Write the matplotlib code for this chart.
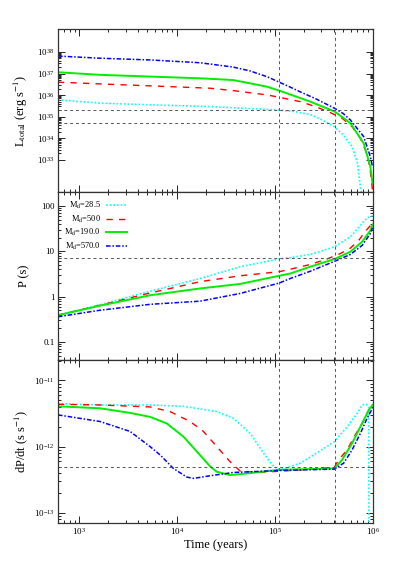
import numpy as np
import matplotlib.pyplot as plt
from matplotlib.ticker import FixedLocator, NullFormatter

plt.rcParams['font.family'] = 'Liberation Serif'
plt.rcParams['mathtext.fontset'] = 'stix'

# all values are log10
labels = [r'M$_{\rm d}$=28.5', r'M$_{\rm d}$=500', r'M$_{\rm d}$=190.0', r'M$_{\rm d}$=570.0']

# top panel: total luminosity
L_t_cyan = [2.785, 3.215, 3.727, 4.341, 5.047, 5.2, 5.364, 5.45, 5.538, 5.610, 5.702, 5.794, 5.845, 5.876, 5.886, 5.89]
L_cyan = [35.78, 35.63, 35.55, 35.47, 35.31, 35.24, 35.10, 34.93, 34.72, 34.53, 34.16, 33.60, 32.86, 31.75, 31.52, 30.5]
L_t_red = [2.785, 3.215, 3.727, 4.341, 4.576, 4.924, 5.047, 5.262, 5.416, 5.569, 5.689, 5.791, 5.876, 5.927, 5.961, 5.978, 5.996, 6.0]
L_red = [36.60, 36.52, 36.43, 36.32, 36.21, 36.01, 35.90, 35.70, 35.47, 35.19, 34.93, 34.54, 34.00, 33.46, 32.92, 32.46, 31.76, 31.6]
L_t_green = [2.785, 3.215, 3.727, 4.238, 4.576, 4.924, 5.047, 5.160, 5.364, 5.613, 5.774, 5.910, 5.978, 6.0]
L_green = [37.06, 36.94, 36.86, 36.78, 36.70, 36.39, 36.21, 36.03, 35.70, 35.24, 34.70, 33.77, 32.69, 31.92]
L_t_blue = [2.785, 3.215, 3.727, 4.238, 4.576, 4.75, 4.924, 5.047, 5.160, 5.262, 5.416, 5.613, 5.70, 5.774, 5.910, 5.978, 6.0]
L_blue = [37.81, 37.71, 37.63, 37.50, 37.30, 37.12, 36.85, 36.60, 36.37, 36.15, 35.84, 35.39, 35.15, 34.85, 34.08, 33.15, 32.69]
L_ref = [35.32, 34.70]

# middle panel: spin period
P_t_cyan = [2.785, 3.215, 3.727, 4.238, 4.648, 5.047, 5.160, 5.364, 5.613, 5.774, 5.876, 5.945, 6.0]
P_cyan = [-0.41, -0.18, 0.12, 0.40, 0.66, 0.83, 0.86, 0.93, 1.10, 1.32, 1.57, 1.74, 1.78]
P_t_red = [2.785, 3.215, 3.727, 4.238, 4.648, 5.047, 5.211, 5.364, 5.535, 5.672, 5.774, 5.859, 5.927, 5.996]
P_red = [-0.41, -0.19, 0.08, 0.33, 0.46, 0.55, 0.63, 0.71, 0.83, 0.95, 1.07, 1.24, 1.44, 1.61]
P_t_green = [2.785, 3.215, 3.727, 4.238, 4.648, 5.047, 5.160, 5.364, 5.613, 5.774, 5.894, 5.978, 6.0]
P_green = [-0.41, -0.20, 0.03, 0.18, 0.28, 0.46, 0.51, 0.66, 0.83, 0.99, 1.21, 1.46, 1.59]
P_t_blue = [2.785, 3.215, 3.727, 4.238, 4.648, 5.047, 5.160, 5.364, 5.613, 5.774, 5.894, 5.978, 6.0]
P_blue = [-0.445, -0.30, -0.17, -0.10, 0.07, 0.30, 0.40, 0.56, 0.78, 0.93, 1.13, 1.39, 1.52]
P_ref = 0.853

# bottom panel: period derivative
D_t_cyan = [2.785, 3.215, 3.727, 4.068, 4.409, 4.579, 4.750, 4.886, 4.989, 5.057, 5.262, 5.398, 5.610, 5.740, 5.842, 5.894, 5.938, 5.961, 5.965]
D_cyan = [-11.35, -11.37, -11.37, -11.39, -11.47, -11.57, -11.80, -12.10, -12.30, -12.35, -12.25, -12.125, -11.925, -11.70, -11.50, -11.37, -11.36, -11.40, -14.0]
D_t_red = [2.785, 3.215, 3.727, 3.931, 4.136, 4.272, 4.409, 4.546, 4.648, 4.819, 4.955, 5.057, 5.398, 5.610, 5.654, 5.740, 5.825, 5.894, 5.961, 5.996]
D_red = [-11.36, -11.37, -11.40, -11.47, -11.62, -11.77, -12.0, -12.23, -12.37, -12.39, -12.38, -12.37, -12.34, -12.31, -12.20, -12.05, -11.82, -11.65, -11.45, -11.37]
D_t_green = [2.785, 3.215, 3.522, 3.727, 3.898, 4.068, 4.205, 4.341, 4.409, 4.546, 4.750, 5.040, 5.610, 5.689, 5.791, 5.876, 5.961, 6.0]
D_green = [-11.39, -11.42, -11.49, -11.55, -11.65, -11.85, -12.075, -12.30, -12.38, -12.43, -12.40, -12.35, -12.33, -12.20, -11.95, -11.70, -11.45, -11.37]
D_t_blue = [2.785, 3.215, 3.522, 3.727, 3.829, 3.965, 4.102, 4.170, 4.341, 4.579, 5.057, 5.610, 5.705, 5.791, 5.876, 5.945, 6.0]
D_blue = [-11.52, -11.62, -11.77, -12.0, -12.125, -12.33, -12.46, -12.48, -12.44, -12.39, -12.36, -12.34, -12.25, -12.05, -11.80, -11.57, -11.42]
D_ref = -12.31

t_lines = [1.1e5, 4.1e5]

styles = [dict(color='cyan', lw=1.2, dashes=(1, 1.2)),
          dict(color='red', lw=1.0, dashes=(4.5, 4.5)),
          dict(color='#00ee00', lw=1.4),
          dict(color='blue', lw=1.1, dashes=(3, 1.2, 1, 1.2))]
ref_style = dict(color='#555555', lw=0.7, dashes=(3, 3))

fig = plt.figure(figsize=(4.15, 5.81), dpi=100)
left, width = 0.1398, 0.7578
ax1 = fig.add_axes([left, 0.669, width, 0.2806])
ax2 = fig.add_axes([left, 0.3804, width, 0.2886])
ax3 = fig.add_axes([left, 0.1003, width, 0.2801])

panels = [(ax1, [(L_t_cyan, L_cyan), (L_t_red, L_red), (L_t_green, L_green), (L_t_blue, L_blue)]),
          (ax2, [(P_t_cyan, P_cyan), (P_t_red, P_red), (P_t_green, P_green), (P_t_blue, P_blue)]),
          (ax3, [(D_t_cyan, D_cyan), (D_t_red, D_red), (D_t_green, D_green), (D_t_blue, D_blue)])]

for ax, series in panels:
    for (t, v), st, lab in zip(series, styles, labels):
        ax.plot(10 ** np.array(t), 10 ** np.array(v), label=lab, **st)
    for tl in t_lines:
        ax.axvline(tl, **ref_style)
    ax.set_xscale('log')
    ax.set_yscale('log')
    ax.set_xlim(610, 1e6)
    ax.set_xticks([1e3, 1e4, 1e5, 1e6])
    ax.tick_params(which='both', direction='in', top=True, right=True, labelsize=6.5, width=0.6, pad=2.5)
    ax.tick_params(which='major', length=5)
    ax.tick_params(which='minor', length=2.5)
    for s in ax.spines.values():
        s.set_linewidth(0.9)
        s.set_color('#333333')
    ax.yaxis.set_label_coords(-0.088, 0.5)

for v in L_ref:
    ax1.axhline(10 ** v, **ref_style)
ax2.axhline(10 ** P_ref, **ref_style)
ax3.axhline(10 ** D_ref, **ref_style)

ax1.set_ylim(10 ** 31.5, 10 ** 39.05)
ax1.set_yticks([10.0 ** k for k in range(33, 39)])
ax1.yaxis.set_minor_locator(FixedLocator([m * 10.0 ** k for k in range(33, 38) for m in range(2, 10)]))
ax1.yaxis.set_minor_formatter(NullFormatter())

ax2.set_ylim(0.04, 200)
ax2.set_yticks([0.1, 1, 10, 100])
ax2.set_yticklabels(['0.1', '1', '10', '100'])

ax3.set_ylim(10 ** -13.15, 10 ** -10.69)
ax3.set_yticks([1e-13, 1e-12, 1e-11])

for ax in (ax1, ax2):
    ax.tick_params(labelbottom=False)

ax1.set_ylabel(r'L$_{\rm total}$ (erg s$^{-1}$)', fontsize=9)
ax2.set_ylabel('P (s)', fontsize=9)
ax3.set_ylabel(r'dP/dt (s s$^{-1}$)', fontsize=9)
ax3.set_xlabel('Time (years)', fontsize=9, labelpad=1)

ax2.legend(loc='upper right', bbox_to_anchor=(0.22, 0.955), frameon=False, markerfirst=False,
           fontsize=6, handlelength=2.6, handletextpad=0.6, labelspacing=0.3,
           borderaxespad=0, borderpad=0)

fig.savefig('out.png', dpi=100)
